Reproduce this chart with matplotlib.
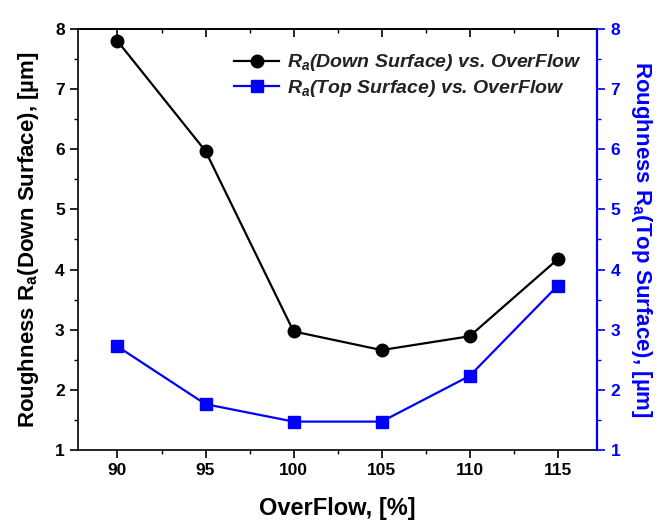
import matplotlib
matplotlib.use("Agg")
import matplotlib.pyplot as plt
from matplotlib.ticker import MultipleLocator

overflow = [90, 95, 100, 105, 110, 115]
ra_down = [7.80, 5.97, 2.97, 2.66, 2.89, 4.17]
ra_top = [2.72, 1.76, 1.47, 1.47, 2.23, 3.73]
x_ticks = [90, 95, 100, 105, 110, 115]
y_ticks = [1, 2, 3, 4, 5, 6, 7, 8]

plt.rcParams['font.family'] = ['Liberation Sans', 'DejaVu Sans']
plt.rcParams['mathtext.fontset'] = 'custom'
plt.rcParams['mathtext.rm'] = 'Liberation Sans:bold'
plt.rcParams['mathtext.it'] = 'Liberation Sans:italic:bold'
plt.rcParams['mathtext.bf'] = 'Liberation Sans:bold'

fig = plt.figure(figsize=(6.6, 5.28), dpi=100)
ax = fig.add_axes([0.118, 0.148, 0.787, 0.797])
ax2 = ax.twinx()

l1, = ax.plot(overflow, ra_down, '-o', color='black', lw=1.6, ms=9,
              label=r'$\mathit{R_a}$(Down Surface) vs. OverFlow')
l2, = ax2.plot(overflow, ra_top, '-s', color='#0000ff', lw=1.6, ms=8,
               label=r'$\mathit{R_a}$(Top Surface) vs. OverFlow')

ax.set_xlim(87.75, 117.25)
ax.set_ylim(1, 8)
ax2.set_ylim(1, 8)
ax.set_xticks(x_ticks)
ax.set_yticks(y_ticks)
ax2.set_yticks(y_ticks)
ax.xaxis.set_minor_locator(MultipleLocator(2.5))
ax.yaxis.set_minor_locator(MultipleLocator(0.5))
ax2.yaxis.set_minor_locator(MultipleLocator(0.5))

for lab in ax.get_xticklabels() + ax.get_yticklabels():
    lab.set_fontweight('bold')
for lab in ax2.get_yticklabels():
    lab.set_fontweight('bold')

ax.tick_params(axis='both', which='major', labelsize=12.5, length=6, width=1.2, direction='out')
ax.tick_params(axis='both', which='minor', length=3, width=1.0, direction='out')
ax2.tick_params(axis='y', which='major', labelsize=12.5, length=6, width=1.2, colors='#0000ff', direction='out')
ax2.tick_params(axis='y', which='minor', length=3, width=1.0, colors='#0000ff', direction='out')

# top axis with inward ticks, no labels
top = ax.secondary_xaxis('top')
top.set_xticks(x_ticks)
top.xaxis.set_minor_locator(MultipleLocator(2.5))
top.tick_params(axis='x', which='major', direction='in', length=6, width=1.2, labeltop=False)
top.tick_params(axis='x', which='minor', direction='in', length=3, width=1.0)
top.spines['top'].set_linewidth(1.2)

for s in ['left', 'bottom', 'top']:
    ax.spines[s].set_linewidth(1.2)
ax2.spines['right'].set_color('#0000ff')
ax2.spines['right'].set_linewidth(1.6)
ax2.spines['left'].set_visible(False)
ax2.spines['top'].set_visible(False)
ax2.spines['bottom'].set_visible(False)
ax.spines['right'].set_visible(False)

ax.set_xlabel('OverFlow, [%]', fontsize=17, fontweight='bold', labelpad=14)
ax.set_ylabel(r'Roughness R$_\mathregular{a}$(Down Surface), [µm]', fontsize=16, fontweight='bold', labelpad=10)
ax2.set_ylabel(r'Roughness R$_\mathregular{a}$(Top Surface), [µm]', fontsize=16, fontweight='bold',
               color='#0000ff', rotation=270, labelpad=24)

leg = ax.legend(handles=[l1, l2], loc='upper right', frameon=False,
                bbox_to_anchor=(0.9855, 0.963),
                prop={'weight': 'bold', 'style': 'italic', 'size': 14},
                handlelength=2.3, handletextpad=0.4, borderaxespad=0.0, labelspacing=0.25)
for t in leg.get_texts():
    t.set_color('#222222')

fig.savefig('out.png', dpi=100)
